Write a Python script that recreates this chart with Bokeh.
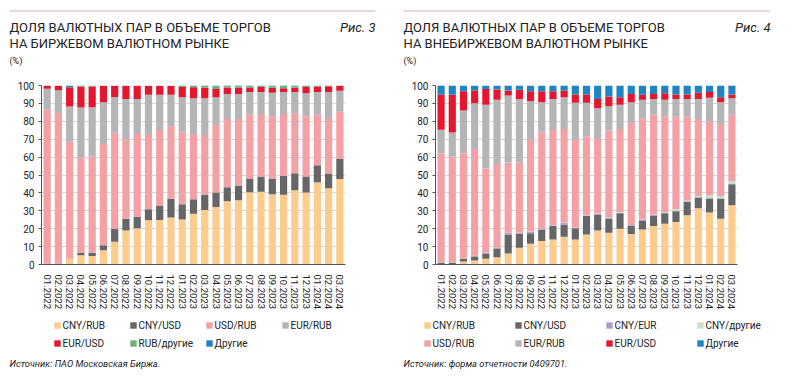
from bokeh.plotting import figure
from bokeh.models import (ColumnDataSource, FactorRange, Range1d, FixedTicker, Legend, LegendItem)
from bokeh.core.properties import value
from bokeh.layouts import row, column
from bokeh.embed import file_html
from bokeh.resources import INLINE

FONT = "Roboto"

months = ["01.2022", "02.2022", "03.2022", "04.2022", "05.2022", "06.2022", "07.2022",
          "08.2022", "09.2022", "10.2022", "11.2022", "12.2022", "01.2023", "02.2023",
          "03.2023", "04.2023", "05.2023", "06.2023", "07.2023", "08.2023", "09.2023",
          "10.2023", "11.2023", "12.2023", "01.2024", "02.2024", "03.2024"]

# ---- Рис. 3: биржевой рынок (%)
ex_cny_rub = [0.3, 0.3, 3.2, 5.2, 4.7, 8.0, 12.7, 19.0, 20.2, 24.7, 24.9, 26.2, 25.2, 28.4,
              30.5, 32.1, 35.3, 35.9, 40.4, 40.6, 39.3, 38.9, 41.5, 40.2, 46.0, 42.6, 47.7]
ex_cny_usd = [0.1, 0.1, 0.2, 1.2, 1.8, 2.8, 7.3, 6.6, 6.5, 6.1, 8.0, 10.6, 8.4, 8.0,
              8.4, 8.1, 7.9, 8.2, 7.6, 8.6, 8.4, 10.6, 9.5, 9.0, 9.5, 8.2, 11.2]
ex_usd_rub = [86.0, 84.3, 65.2, 53.4, 53.7, 56.5, 53.6, 44.1, 46.2, 42.1, 42.2, 40.4, 40.6, 36.5,
              33.4, 37.7, 38.1, 37.2, 35.6, 34.9, 35.1, 34.6, 33.5, 33.6, 28.1, 30.5, 26.5]
ex_eur_rub = [11.8, 12.6, 19.6, 27.9, 27.7, 23.4, 20.0, 22.8, 19.6, 21.9, 19.7, 17.6, 19.3, 20.0,
              20.6, 15.6, 14.0, 14.0, 12.7, 12.2, 13.1, 12.2, 11.8, 12.9, 12.7, 15.0, 11.6]
ex_eur_usd = [1.6, 2.6, 10.8, 11.7, 11.6, 9.0, 6.1, 7.2, 7.2, 4.9, 4.9, 4.9, 5.6, 6.1,
              5.8, 4.6, 3.6, 3.4, 2.6, 2.8, 2.8, 2.2, 2.4, 3.4, 3.1, 3.3, 2.8]
ex_rub_other = [0.1, 0.1, 0.2, 0.3, 0.3, 0.2, 0.2, 0.2, 0.2, 0.2, 0.2, 0.2, 0.7, 0.7,
                1.0, 1.4, 0.8, 1.0, 0.8, 0.7, 1.0, 1.2, 1.0, 0.7, 0.4, 0.3, 0.1]
ex_other = [0.1, 0.0, 0.8, 0.3, 0.2, 0.1, 0.1, 0.1, 0.1, 0.1, 0.1, 0.1, 0.2, 0.3,
            0.3, 0.5, 0.3, 0.3, 0.3, 0.2, 0.3, 0.3, 0.3, 0.2, 0.2, 0.1, 0.1]

# ---- Рис. 4: внебиржевой рынок (%)
otc_cny_rub = [0.3, 0.2, 1.7, 2.2, 3.2, 4.1, 6.2, 9.3, 11.6, 13.1, 14.0, 15.5, 14.0, 16.8,
               19.0, 17.8, 20.0, 17.0, 19.6, 21.5, 22.8, 23.7, 27.5, 31.4, 29.0, 25.6, 33.1]
otc_cny_usd = [0.7, 0.6, 1.5, 2.3, 3.0, 4.9, 10.6, 7.9, 5.8, 6.5, 7.5, 6.9, 6.2, 10.3,
               9.0, 7.8, 8.6, 4.7, 4.7, 5.6, 5.8, 6.0, 7.5, 6.0, 7.8, 11.2, 11.8]
otc_cny_eur = [0.1, 0.1, 0.3, 0.3, 0.3, 0.3, 0.8, 0.5, 0.9, 0.3, 0.3, 0.8, 0.2, 0.3,
               0.4, 0.6, 0.5, 0.3, 0.7, 0.6, 0.5, 0.3, 0.4, 0.2, 0.3, 0.2, 0.3]
otc_cny_other = [0.1, 0.1, 0.1, 0.1, 0.1, 0.1, 0.2, 0.1, 0.2, 0.1, 0.1, 0.2, 0.1, 0.1,
                 0.1, 0.2, 0.2, 0.1, 0.2, 0.2, 0.2, 0.8, 0.3, 0.7, 1.6, 1.3, 1.5]
otc_usd_rub = [61.0, 59.2, 58.6, 59.6, 47.0, 46.7, 39.2, 39.2, 51.2, 54.2, 53.2, 52.3, 49.6, 44.1,
               41.6, 48.4, 46.4, 57.0, 56.5, 55.7, 53.5, 51.8, 47.1, 43.0, 41.1, 40.2, 36.9]
otc_eur_rub = [13.1, 13.6, 23.8, 25.6, 35.6, 36.0, 37.4, 35.5, 21.5, 16.5, 17.4, 17.8, 20.2, 18.7,
               17.2, 13.6, 13.5, 11.6, 10.3, 8.9, 9.2, 9.9, 9.7, 11.2, 13.3, 12.2, 9.3]
otc_eur_usd = [19.5, 21.0, 10.8, 7.1, 8.9, 5.7, 2.8, 5.1, 5.6, 6.1, 4.3, 3.7, 4.7, 4.7,
               5.2, 5.4, 4.3, 4.6, 2.8, 2.8, 3.7, 2.5, 2.5, 3.4, 3.2, 2.8, 2.1]
otc_other = [5.2, 5.2, 3.2, 2.8, 1.9, 2.2, 2.8, 2.4, 3.2, 3.2, 3.2, 2.8, 5.0, 5.0,
             7.5, 6.2, 6.5, 4.7, 5.2, 4.7, 4.3, 5.0, 5.0, 4.1, 3.7, 6.5, 5.0]

ex_names = ["CNY/RUB", "CNY/USD", "USD/RUB", "EUR/RUB", "EUR/USD", "RUB/другие", "Другие"]
otc_names = ["CNY/RUB", "CNY/USD", "CNY/EUR", "CNY/другие", "USD/RUB", "EUR/RUB", "EUR/USD", "Другие"]

C_CNY_RUB = "#FDCB8C"
C_CNY_USD = "#666666"
C_USD_RUB = "#F4A1A6"
C_EUR_RUB = "#B5B5B7"
C_EUR_USD = "#E4172F"
C_RUB_OTH = "#6DB27A"
C_OTHER = "#1E84C2"
C_CNY_EUR = "#A9A1CF"
C_CNY_OTH = "#C3E3C3"

ex_colors = [C_CNY_RUB, C_CNY_USD, C_USD_RUB, C_EUR_RUB, C_EUR_USD, C_RUB_OTH, C_OTHER]
otc_colors = [C_CNY_RUB, C_CNY_USD, C_CNY_EUR, C_CNY_OTH, C_USD_RUB, C_EUR_RUB, C_EUR_USD, C_OTHER]

TXT = "#222222"
HEAD_H = 70
CHART_H = 242
FOOT_H = 64
NAN = float("nan")


def blank_fig(width, height):
    p = figure(width=width, height=height, x_range=Range1d(0, width), y_range=Range1d(height, 0),
               output_backend="svg", toolbar_location=None, x_axis_location=None,
               y_axis_location=None, min_border=0, frame_align=False)
    p.min_border_left = p.min_border_right = p.min_border_top = p.min_border_bottom = 0
    p.outline_line_color = None
    p.grid.visible = False
    return p


def txt(p, x, y, text, size, style="normal", align="left"):
    p.text(x=[x], y=[y], text=[text], text_font=value(FONT), text_font_size=size,
           text_font_style=style, text_align=align, text_baseline="middle", text_color=TXT)


def header(width, x0, x1, line2, fig_no):
    h = blank_fig(width, HEAD_H)
    h.segment(x0=[x0], y0=[10.5], x1=[x1], y1=[10.5], line_color="#D3B3B3", line_width=1)
    txt(h, x0, 27, "ДОЛЯ ВАЛЮТНЫХ ПАР В ОБЪЕМЕ ТОРГОВ", "13px")
    txt(h, x0, 43, line2, "13px")
    txt(h, x0, 60, "(%)", "9px")
    txt(h, x1, 27, fig_no, "13px", style="italic", align="right")
    return h


def chart(width, bl, br, src, keys, colors):
    p = figure(width=width, height=CHART_H, x_range=FactorRange(factors=months, range_padding=0),
               y_range=Range1d(0, 100), output_backend="svg", toolbar_location=None,
               min_border_left=bl, min_border_right=br, min_border_top=15, min_border_bottom=48,
               frame_align=False)
    p.outline_line_color = None
    p.xgrid.grid_line_color = None
    p.ygrid.grid_line_color = "#D6D6D6"
    p.ygrid.grid_line_width = 1
    p.yaxis.ticker = FixedTicker(ticks=list(range(0, 101, 10)))
    p.yaxis.minor_tick_line_color = None
    p.yaxis.major_tick_out = 3
    p.yaxis.major_tick_in = 0
    p.yaxis.major_label_standoff = 4
    p.yaxis.axis_line_color = "#555555"
    p.yaxis.major_tick_line_color = "#555555"
    p.xaxis.axis_line_color = "#555555"
    p.xaxis.major_tick_line_color = None
    p.xaxis.major_label_orientation = "vertical"
    p.xaxis.major_label_standoff = 4
    for ax in (p.xaxis, p.yaxis):
        ax.major_label_text_font = FONT
        ax.major_label_text_color = TXT
    p.yaxis.major_label_text_font_size = "10px"
    p.xaxis.major_label_text_font_size = "9.5px"
    p.vbar_stack(keys, x="m", width=0.64, source=src, color=colors, line_color=None)
    return p


def footer(width, names, colors, vx, lw, source_text, sx):
    f = blank_fig(width, FOOT_H)
    # legend-only swatch renderers (no drawable data)
    rends = [f.vbar(x=[NAN], top=[NAN], bottom=[NAN], width=1, fill_color=c, line_color=None)
             for c in colors]
    items = [LegendItem(label=n, renderers=[r]) for n, r in zip(names, rends)]
    lg = Legend(items=items, location=(vx, 26), orientation="horizontal", ncols=4,
                padding=0, margin=0, spacing=4, border_line_color=None,
                background_fill_alpha=0, glyph_width=8, glyph_height=8, label_standoff=2,
                label_width=lw, label_height=14, label_text_font=FONT,
                label_text_font_size="10px", label_text_color=TXT)
    f.add_layout(lg, "center")
    txt(f, sx, 51, source_text, "9.3px", style="italic")
    return f


# ---------- left panel
src1 = ColumnDataSource(dict(m=months, a=ex_cny_rub, b=ex_cny_usd, c=ex_usd_rub, d=ex_eur_rub,
                             e=ex_eur_usd, f=ex_rub_other, g=ex_other))
left = column(
    header(399, 9, 375, "НА БИРЖЕВОМ ВАЛЮТНОМ РЫНКЕ", "Рис. 3"),
    chart(399, 41, 54, src1, ["a", "b", "c", "d", "e", "f", "g"], ex_colors),
    footer(399, ex_names, ex_colors, 52.5, 62, "Источник: ПАО Московская Биржа.", 9),
    spacing=0)

# ---------- right panel
src2 = ColumnDataSource(dict(m=months, a=otc_cny_rub, b=otc_cny_usd, c=otc_cny_eur, d=otc_cny_other,
                             e=otc_usd_rub, f=otc_eur_rub, g=otc_eur_usd, h=otc_other))
right = column(
    header(400, 4, 371, "НА ВНЕБИРЖЕВОМ ВАЛЮТНОМ РЫНКЕ", "Рис. 4"),
    chart(400, 36, 62, src2, ["a", "b", "c", "d", "e", "f", "g", "h"], otc_colors),
    footer(400, otc_names, otc_colors, 23.5, 77, "Источник: форма отчетности 0409701.", 4),
    spacing=0)

layout = row(left, right, spacing=0)
open("out.html", "w").write(file_html(layout, INLINE))
